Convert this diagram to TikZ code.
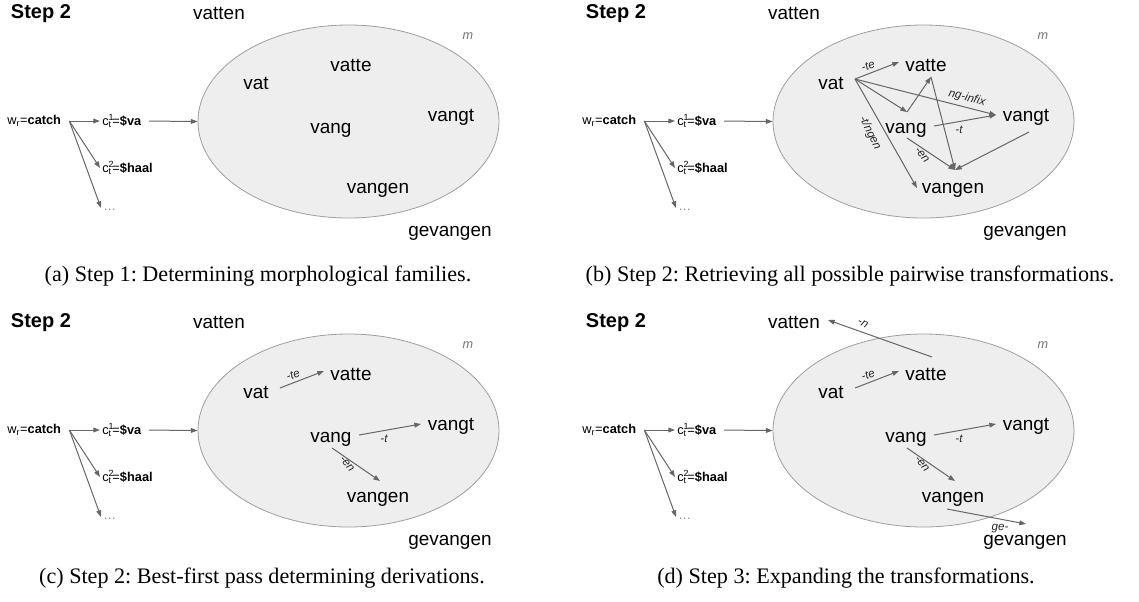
\documentclass[tikz,border=0pt]{standalone}
\usepackage{fontspec}
\setmainfont{Liberation Sans}
\newfontfamily\capfont{Liberation Serif}
\usetikzlibrary{arrows.meta,shapes.geometric}
\definecolor{arrowgray}{HTML}{666666}
\definecolor{fillgray}{HTML}{EEEEEE}
\definecolor{edgegray}{HTML}{9E9E9E}
\frenchspacing
\tikzset{
  word/.style={font=\fontsize{14.2}{16}\selectfont, inner sep=1pt},
  steptitle/.style={font=\fontsize{15}{18}\selectfont\bfseries, inner sep=0pt},
  smalltext/.style={font=\fontsize{9.6}{11}\selectfont, inner sep=1.5pt, anchor=west},
  elabel/.style={font=\fontsize{8.7}{10}\selectfont\itshape, inner sep=0pt, text=black!85},
  mlabel/.style={font=\fontsize{9.5}{11}\selectfont\itshape, text=black!55, inner sep=0pt},
  family/.style={ellipse, draw=edgegray, fill=fillgray, line width=0.6pt,
    minimum width=225.75pt, minimum height=144.75pt, inner sep=0pt},
  arr/.style={draw=arrowgray, line width=0.75pt, -{Triangle[length=5pt,width=3.6pt]}},
  captext/.style={font=\capfont\fontsize{16.6}{19}\selectfont, inner sep=0pt},
}
\newcommand\basepanel{%
  \node[steptitle] (step) at (41,14) {Step 2};
  \node[word] (vatten) at (219,13) {vatten};
  \node[family] (fam) at (348.5,121.5) {};
  \node[mlabel] (m) at (468,36) {m};
  \node[word] (vatte) at (351,65) {vatte};
  \node[word] (vat) at (256,83) {vat};
  \node[word] (vangt) at (451,117) {vangt};
  \node[word] (vang) at (331,130) {vang};
  \node[word] (vangen) at (378,190) {vangen};
  \node[word] (gevangen) at (450,233) {gevangen};
  \node[smalltext] (wr) at (5,121) {w\textsubscript{r}=\textbf{catch}};
  \node[smalltext] (c1) at (100,121) {c\rlap{\textsuperscript{1}}\textsubscript{t}\kern0.5pt=\textbf{\$va}};
  \node[smalltext] (c2) at (100,168) {c\rlap{\textsuperscript{2}}\textsubscript{t}\kern0.5pt=\textbf{\$haal}};
  \node[smalltext, text=black!45] (dots) at (101,210) {\ldots};
  \coordinate (wro) at ([xshift=4.5pt]wr.east);
  \draw[arr] (wro) -- (c1.west);
  \draw[arr] (wro) -- (c2.west);
  \draw[arr] (wro) -- ([yshift=1.5pt]dots.west);
  \draw[arr, shorten <=4pt] (c1.east) -- (fam.west);
}
\newcommand\bestpass{%
  \coordinate (vatout) at (280,79);
  \coordinate (vattein) at (324,62);
  \coordinate (vangout) at (359,126);
  \coordinate (vangtin) at (421,115);
  \coordinate (vangbot) at (332,139);
  \coordinate (vangentop) at (380,172);
  \draw[arr] (vatout) -- (vattein);
  \node[elabel, rotate=20] (lte) at (293,66) {-te};
  \draw[arr] (vangout) -- (vangtin);
  \node[elabel] (lt) at (384,130) {-t};
  \draw[arr] (vangbot) -- (vangentop);
  \node[elabel, rotate=-50] (len) at (347,155) {-en};
}
\begin{document}
\begin{tikzpicture}[x=0.75pt,y=-0.75pt]
\useasboundingbox (0,0) rectangle (1139,601);
% (a)
\begin{scope}[name prefix=a-]
  \basepanel
\end{scope}
% (b)
\begin{scope}[shift={(575,0)}, name prefix=b-]
  \basepanel
  \coordinate (vatout) at (280,79);
  \coordinate (vattein) at (324,62);
  \coordinate (vangtop) at (332,112);
  \coordinate (vattebot) at (356,77);
  \coordinate (vangtin) at (421,115);
  \coordinate (vangenin) at (342,188);
  \coordinate (vangout) at (359,126);
  \coordinate (vangbot) at (332,138);
  \coordinate (vangentop) at (380,170);
  \coordinate (vangtout) at (454,132);
  \draw[arr] (vatout) -- (vattein);
  \node[elabel, rotate=20] (lte) at (293,66) {-te};
  \draw[arr] (vatout) -- (vangtop);
  \draw[arr] (vangtop) -- (vattebot);
  \draw[arr] (vatout) -- (vangtin);
  \node[elabel, rotate=-14] (lng) at (392,98) {ng-infix};
  \draw[arr] (vatout) -- (vangenin);
  \node[elabel, rotate=-64] (ltngen) at (295,133) {-t/ngen};
  \draw[arr] (vangout) -- (vangtin);
  \node[elabel] (lt) at (384,130) {-t};
  \draw[arr] (vangbot) -- (vangentop);
  \node[elabel, rotate=-50] (len) at (347,155) {-en};
  \draw[arr] (vattebot) -- (vangentop);
  \draw[arr] (vangtout) -- (vangentop);
\end{scope}
% (c)
\begin{scope}[shift={(0,309)}, name prefix=c-]
  \basepanel
  \bestpass
\end{scope}
% (d)
\begin{scope}[shift={(575,309)}, name prefix=d-]
  \basepanel
  \bestpass
  \coordinate (vattetop) at (357,48);
  \coordinate (vattenin) at (253,11);
  \coordinate (vangenout) at (372,200);
  \coordinate (gevangenin) at (451,215);
  \draw[arr] (vattetop) -- (vattenin);
  \node[elabel, rotate=-28] (ln) at (288,14) {-n};
  \draw[arr] (vangenout) -- (gevangenin);
  \node[elabel] (lge) at (425,220) {ge-};
\end{scope}
% captions
\node[captext] (capa) at (258,276) {(a) Step 1: Determining morphological families.};
\node[captext] (capb) at (850,276) {(b) Step 2: Retrieving all possible pairwise transformations.};
\node[captext] (capc) at (262,578) {(c) Step 2: Best-first pass determining derivations.};
\node[captext] (capd) at (846,578) {(d) Step 3: Expanding the transformations.};
\end{tikzpicture}
\end{document}
